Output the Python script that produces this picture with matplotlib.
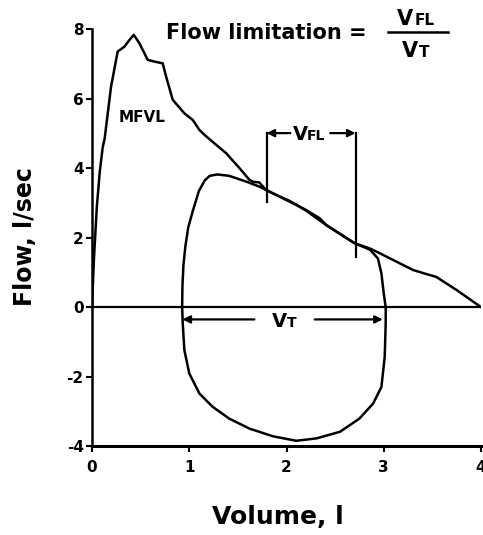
import matplotlib
matplotlib.use("Agg")
import matplotlib.pyplot as plt

# ---- data ----
mfvl_volume = [0.0, 0.02, 0.05, 0.08, 0.11, 0.13, 0.196, 0.264, 0.333, 0.384, 0.43,
               0.487, 0.573, 0.642, 0.727, 0.762, 0.83, 0.95, 1.036, 1.105, 1.157,
               1.24, 1.38, 1.517, 1.62, 1.654, 1.72, 1.79, 1.895, 2.066, 2.2, 2.34,
               2.41, 2.70, 2.856, 2.96, 3.13, 3.30, 3.44, 3.54, 3.75, 4.0]
mfvl_flow = [0.0, 1.4, 2.9, 3.9, 4.6, 4.85, 6.35, 7.36, 7.50, 7.69, 7.84,
             7.60, 7.12, 7.07, 7.02, 6.64, 5.97, 5.58, 5.39, 5.10, 4.96,
             4.76, 4.43, 4.00, 3.66, 3.61, 3.59, 3.37, 3.23, 2.99, 2.80, 2.56,
             2.36, 1.84, 1.69, 1.55, 1.31, 1.07, 0.95, 0.87, 0.49, 0.0]

tidal_volume = [0.927, 0.93, 0.94, 0.96, 0.99, 1.04, 1.10, 1.16, 1.21, 1.29, 1.41,
                1.59, 1.72, 1.80, 1.90, 2.03, 2.10, 2.20, 2.41, 2.70, 2.86, 2.94,
                2.976, 3.00, 3.02,
                3.02, 3.01, 2.976, 2.89, 2.75, 2.55, 2.31, 2.10, 1.86, 1.62, 1.41,
                1.24, 1.105, 1.0, 0.95, 0.933, 0.927]
tidal_flow = [0.0, 0.6, 1.2, 1.75, 2.3, 2.8, 3.35, 3.65, 3.78, 3.82, 3.78,
              3.61, 3.47, 3.36, 3.22, 3.06, 2.95, 2.78, 2.36, 1.84, 1.65, 1.40,
              0.97, 0.39, 0.0,
              -0.47, -1.43, -2.30, -2.78, -3.21, -3.59, -3.78, -3.85, -3.72, -3.50, -3.21,
              -2.87, -2.49, -1.91, -1.24, -0.47, 0.0]

x_ticks = [0, 1, 2, 3, 4]
y_ticks = [-4, -2, 0, 2, 4, 6, 8]

vfl_start, vfl_end, vfl_level = 1.795, 2.71, 5.01
vfl_left_bottom, vfl_right_bottom = 3.03, 1.44
vt_start, vt_end, vt_level = 0.93, 2.99, -0.355

plt.rcParams['font.family'] = ['DejaVu Sans']
plt.rcParams['font.weight'] = 'bold'

W, H = 483, 535
fig = plt.figure(figsize=(W / 100, H / 100), dpi=100)
ax = fig.add_axes([92 / W, 1 - 446 / H, 389 / W, (446 - 29.3) / H])

lw = 1.8
ax.plot(mfvl_volume, mfvl_flow, color='black', lw=lw, solid_joinstyle='round')
ax.plot(tidal_volume, tidal_flow, color='black', lw=lw, solid_joinstyle='round')
ax.plot([0, 4], [0, 0], color='black', lw=1.6)

ax.set_xlim(0, 4)
ax.set_ylim(-4, 8)
ax.set_xticks(x_ticks)
ax.set_yticks(y_ticks)
ax.set_xticklabels([str(v) for v in x_ticks], fontsize=11, fontweight='bold')
ax.set_yticklabels([str(v) for v in y_ticks], fontsize=11, fontweight='bold')
ax.tick_params(axis='x', direction='out', length=4, width=1.5, pad=6)
ax.tick_params(axis='y', direction='out', length=4, width=1.5, pad=2)
for s in ['top', 'right']:
    ax.spines[s].set_visible(False)
ax.spines['left'].set_linewidth(1.8)
ax.spines['bottom'].set_linewidth(2.2)

# V_FL bracket
ax.plot([vfl_start, vfl_start], [vfl_left_bottom, vfl_level], color='black', lw=1.6)
ax.plot([vfl_end, vfl_end], [vfl_right_bottom, vfl_level], color='black', lw=1.6)
arrow = dict(arrowstyle='-|>', color='black', lw=1.6, mutation_scale=11,
             shrinkA=0, shrinkB=0)
ax.annotate('', xy=(vfl_start, vfl_level), xytext=(2.04, vfl_level), arrowprops=arrow)
ax.annotate('', xy=(vfl_end, vfl_level), xytext=(2.45, vfl_level), arrowprops=arrow)
ax.text(2.063, 4.81, 'V', fontsize=14, fontweight='bold', ha='left', va='baseline')
ax.text(2.21, 4.81, 'FL', fontsize=10, fontweight='bold', ha='left', va='baseline')

# V_T arrow
ax.annotate('', xy=(vt_start, vt_level), xytext=(1.67, vt_level), arrowprops=arrow)
ax.annotate('', xy=(vt_end, vt_level), xytext=(2.29, vt_level), arrowprops=arrow)
ax.text(1.846, -0.576, 'V', fontsize=14, fontweight='bold', ha='left', va='baseline')
ax.text(2.0, -0.576, 'T', fontsize=10, fontweight='bold', ha='left', va='baseline')

# MFVL label
ax.text(0.27, 5.45, 'MFVL', fontsize=11, fontweight='bold', ha='left', va='center')

# Formula
fig.text(166 / W, 1 - 33 / H, 'Flow limitation =', fontsize=15, fontweight='bold',
         ha='left', va='center')
fig.text(397 / W, 1 - 25 / H, 'V', fontsize=15, fontweight='bold', ha='left', va='baseline')
fig.text(415 / W, 1 - 25 / H, 'FL', fontsize=11, fontweight='bold', ha='left', va='baseline')
fig.add_artist(plt.Line2D([388 / W, 448 / W], [1 - 32.3 / H, 1 - 32.3 / H],
                          color='black', lw=1.8, transform=fig.transFigure))
fig.text(402 / W, 1 - 57 / H, 'V', fontsize=15, fontweight='bold', ha='left', va='baseline')
fig.text(419 / W, 1 - 57 / H, 'T', fontsize=11, fontweight='bold', ha='left', va='baseline')

# axis labels
fig.text(25 / W, 1 - 237 / H, 'Flow, l/sec', fontsize=17, fontweight='bold',
         rotation=90, ha='center', va='center')
fig.text(278 / W, 1 - 517 / H, 'Volume, l', fontsize=18, fontweight='bold',
         ha='center', va='center')

fig.savefig('out.png', dpi=100)
